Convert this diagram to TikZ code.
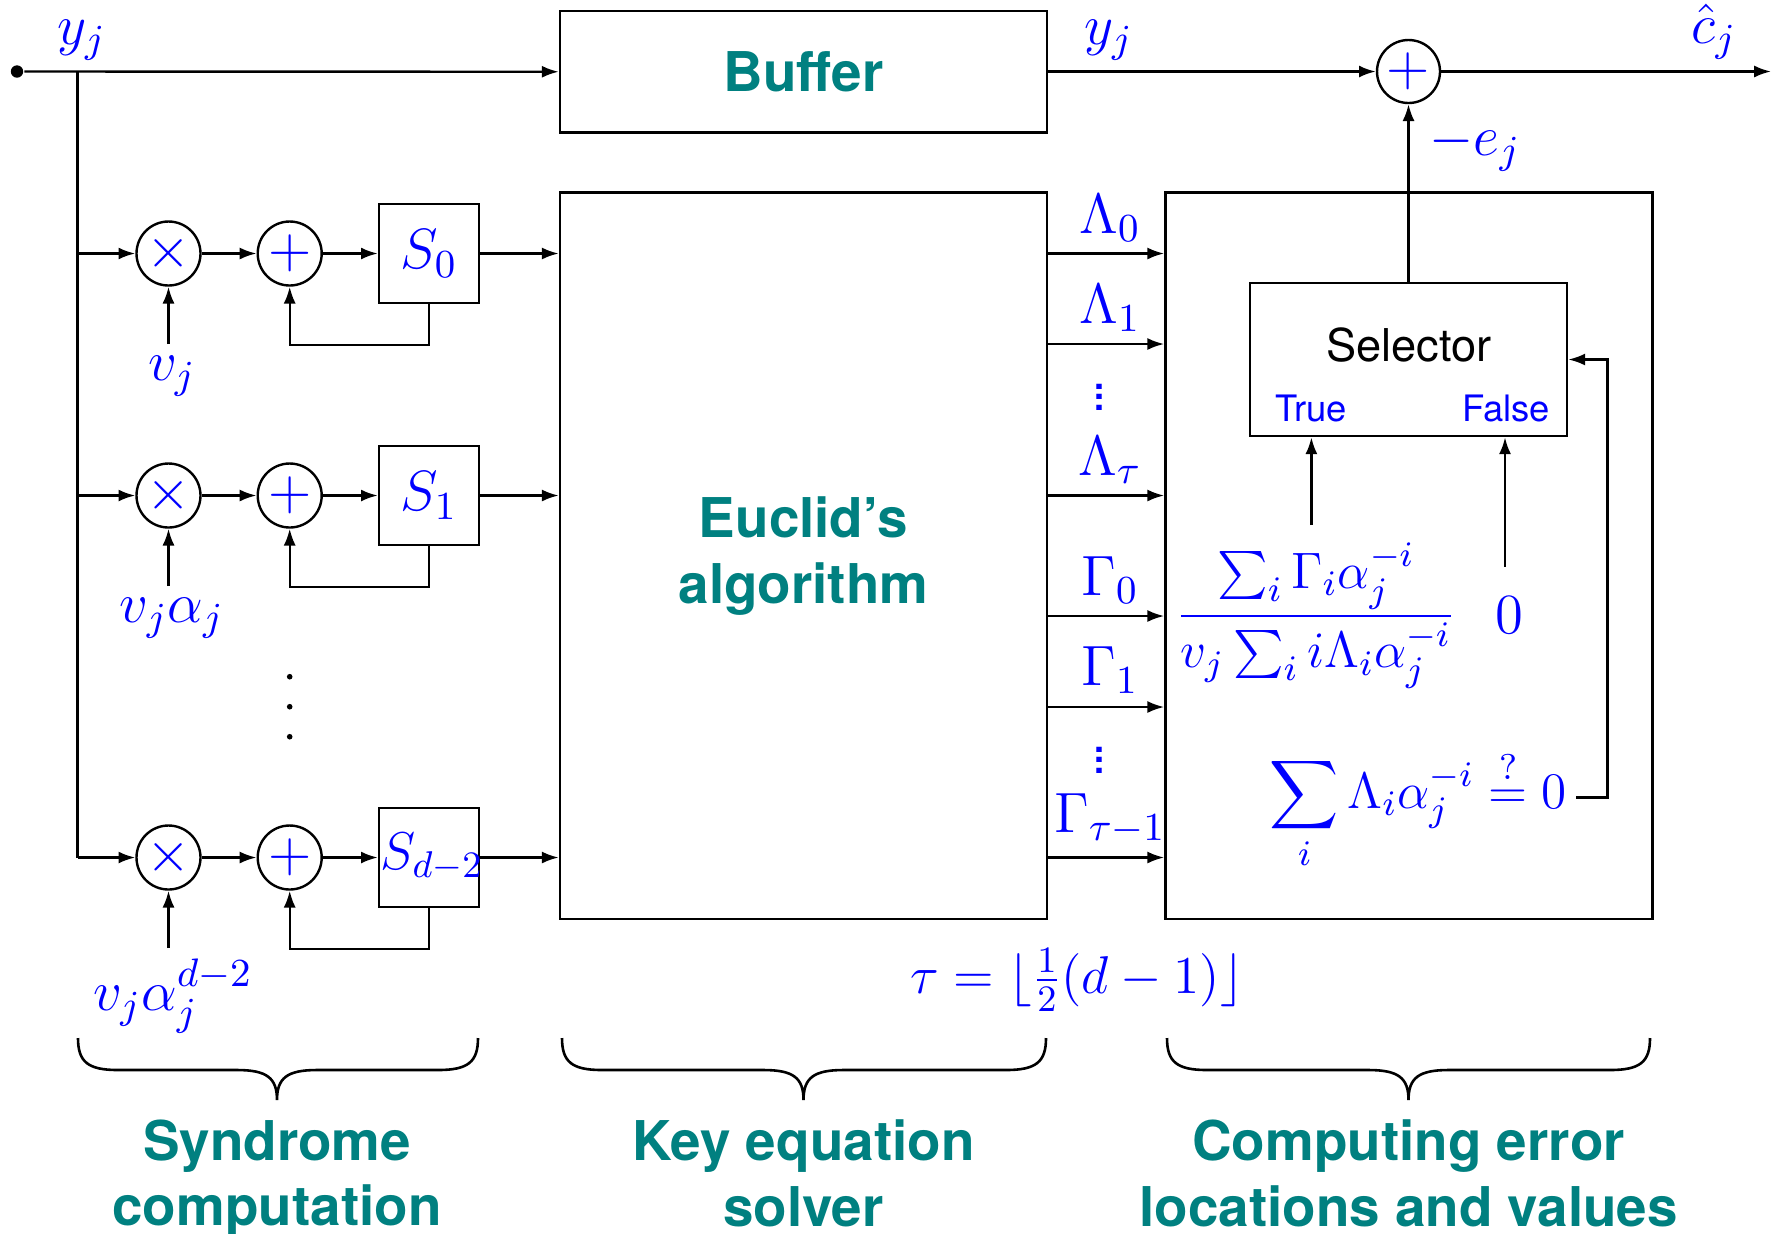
\RequirePackage{fix-cm}
\documentclass[tikz,border=0pt]{standalone}
\usepackage{fontspec}
\setsansfont{TeX Gyre Heros}
\usepackage{amsmath}
\usetikzlibrary{arrows.meta}
\newcommand{\dgmath}{\fontsize{14.2}{17}\selectfont}
\newcommand{\dgmathb}{\fontsize{12.8}{15}\selectfont}
\newcommand{\dgmathc}{\fontsize{13.3}{16}\selectfont}
\newcommand{\dgtitle}{\sffamily\bfseries\fontsize{13.7}{16.4}\selectfont}
\newcommand{\dgbrace}[3]{%
  \draw[brc] (#1,1038) .. controls (#1,1062) and ({#1+10},1070) .. ({#1+40},1070)
    -- ({#2-40},1070) .. controls ({#2-10},1070) and (#2,1078) .. (#2,1100)
    .. controls (#2,1078) and ({#2+10},1070) .. ({#2+40},1070)
    -- ({#3-40},1070) .. controls ({#3-10},1070) and (#3,1062) .. (#3,1038);}
\begin{document}
\begin{tikzpicture}[x=0.25pt,y=-0.25pt,line width=0.6pt,
  arr/.style={-{Latex[length=4.2pt,width=3pt]}},
  opnode/.style={circle,draw,minimum size=16pt,inner sep=0pt,text=blue,font=\dgmath},
  regbox/.style={draw,minimum width=25pt,minimum height=24.75pt,inner sep=0pt,text=blue,font=\dgmath},
  bigbox/.style={draw,line width=0.65pt,minimum width=121.75pt,minimum height=181.6pt,inner sep=0pt},
  lbl/.style={text=blue,font=\dgmath,inner sep=0pt,anchor=base},
  title/.style={text=teal,font=\dgtitle,align=center,inner sep=0pt},
  brc/.style={line width=0.65pt},
  vdot/.style={text=blue,font=\sffamily\bfseries\fontsize{9}{9}\selectfont,inner sep=0pt}]
\useasboundingbox (0,0) rectangle (1775,1233);

% input and buffer
\node[circle,fill,inner sep=0pt,minimum size=3.1pt] (start) at (17,71.5) {};
\coordinate (br) at (77.5,71.5);
\node[draw,line width=0.65pt,minimum width=121.75pt,minimum height=30.375pt,inner sep=0pt,text=teal,font=\dgtitle] (buf) at (803.5,71.75) {Buffer};
\node[lbl] (yl) at (82,44) {$y_j$};

% big boxes
\node[bigbox,title] (euc) at (803.5,555.75) {Euclid's\\algorithm};
\node[bigbox] (rb) at (1409,555.75) {};

% syndrome rows
\node[opnode] (m1) at (168.5,253.5) {$\times$};
\node[opnode] (p1) at (289.7,253.5) {$+$};
\node[regbox] (s1) at (429,253.5) {$S_0$};
\node[opnode] (m2) at (168.5,495.5) {$\times$};
\node[opnode] (p2) at (289.7,495.5) {$+$};
\node[regbox] (s2) at (429,495.5) {$S_1$};
\node[opnode] (m3) at (168.5,857.5) {$\times$};
\node[opnode] (p3) at (289.7,857.5) {$+$};
\node[regbox] (s3) at (429,857.5) {};
\node[lbl,anchor=center,font=\dgmathc] (s3l) at (432,857.5) {$S_{d-2}$};

\coordinate (v1) at (168.5,344);
\coordinate (v2) at (168.5,586);
\coordinate (v3) at (168.5,948);
\node[lbl] (v1l) at (172,380) {$v_j$};
\node[lbl] (v2l) at (172,622) {$v_j\alpha_j$};
\node[lbl] (v3l) at (173,1010) {$v_j\alpha_j^{d-2}$};

\draw[arr] (start) -- (buf.west);
\draw (br) -- (br |- m3);
\foreach \i in {1,2,3}{
  \draw[arr] (br |- m\i) -- (m\i);
  \draw[arr] (m\i) -- (p\i);
  \draw[arr] (p\i) -- (s\i);
  \draw[arr] (s\i) -- (euc.west |- s\i);
  \draw[arr] (s\i.south) -- ++(0,41) -| (p\i.south);
  \draw[arr] (v\i) -- (m\i.south);
}
\fill (289.7,676.7) circle (0.7pt);
\fill (289.7,706.7) circle (0.7pt);
\fill (289.7,736.7) circle (0.7pt);

% output part
\node[opnode,minimum size=15.75pt] (pc) at (1408.5,71.5) {$+$};
\coordinate (out) at (1771,71.5);
\draw[arr] (buf.east |- pc) -- (pc.west);
\draw[arr] (pc.east) -- (out);
\node[lbl] (yr) at (1109,44) {$y_j$};
\node[lbl] (ch) at (1714,43) {$\hat{c}_j$};
\node[lbl] (ej) at (1475,155) {$-e_j$};

\node[draw,line width=0.65pt,minimum width=79.25pt,minimum height=38.25pt,inner sep=0pt] (sel) at (1408.5,359.5) {};
\node[font=\sffamily\fontsize{11.3}{13}\selectfont,anchor=base,inner sep=0pt] (selt) at (1409,361.7) {Selector};
\node[font=\sffamily\fontsize{9.1}{11}\selectfont,text=blue,anchor=base,inner sep=0pt] (tt) at (1311,421.7) {True};
\node[font=\sffamily\fontsize{9.1}{11}\selectfont,text=blue,anchor=base,inner sep=0pt] (ft) at (1506,421.7) {False};
\draw[arr] (sel.north) -- (pc.south);

% Lambda / Gamma connections
\coordinate (lv1) at (0,344);
\coordinate (lv4) at (0,616);
\coordinate (lv5) at (0,707);
\draw[arr] (euc.east |- s1) -- (rb.west |- s1);
\draw[arr] (euc.east |- lv1) -- (rb.west |- lv1);
\draw[arr] (euc.east |- s2) -- (rb.west |- s2);
\draw[arr] (euc.east |- lv4) -- (rb.west |- lv4);
\draw[arr] (euc.east |- lv5) -- (rb.west |- lv5);
\draw[arr] (euc.east |- s3) -- (rb.west |- s3);
\node[lbl] (L0) at (1110,233) {$\Lambda_0$};
\node[lbl] (L1) at (1110,323) {$\Lambda_1$};
\node[lbl] (Lt) at (1110,475) {$\Lambda_\tau$};
\node[lbl] (G0) at (1110,595) {$\Gamma_0$};
\node[lbl] (G1) at (1110,685) {$\Gamma_1$};
\node[lbl] (Gt) at (1110,832) {$\Gamma_{\tau-1}$};
\node[vdot] (vd1) at (1099,397) {\vbox{\baselineskip=2.6pt\lineskiplimit=0pt\hbox{.}\hbox{.}\hbox{.}}};
\node[vdot] (vd2) at (1099,760) {\vbox{\baselineskip=2.6pt\lineskiplimit=0pt\hbox{.}\hbox{.}\hbox{.}}};

% formulas in the right box
\node[lbl,font=\dgmathb] (frac) at (1316,628.5) {$\displaystyle\frac{\sum_i \Gamma_i\alpha_j^{-i}}{v_j\sum_i i\Lambda_i\alpha_j^{-i}}$};
\node[lbl] (zero) at (1509,633) {$0$};
\node[lbl,font=\dgmathb,anchor=base east] (eq) at (1568,808) {$\displaystyle\sum_i \Lambda_i\alpha_j^{-i} \overset{?}{=} 0$};
\coordinate (tin) at (1311.4,525);
\coordinate (fin) at (1505,566.7);
\coordinate (eqend) at (1576,797.3);
\coordinate (fb) at (1607.5,797.3);
\draw[arr] (tin) -- (tin |- sel.south);
\draw[arr] (fin) -- (fin |- sel.south);
\draw[arr] (eqend) -- (fb) |- (sel.east);

\node[lbl,font=\dgmathc] (tau) at (1077,993) {$\tau = \lfloor \frac{1}{2}(d-1)\rfloor$};

% braces and titles
\dgbrace{78}{277}{478}
\dgbrace{562}{803.5}{1046}
\dgbrace{1167}{1408.5}{1650}
\node[title,anchor=north] (t1) at (277,1118.5) {Syndrome\\computation};
\node[title,anchor=north] (t2) at (803.5,1118.5) {Key equation\\solver};
\node[title,anchor=north] (t3) at (1408.5,1118.5) {Computing error\\locations and values};
\end{tikzpicture}
\end{document}
